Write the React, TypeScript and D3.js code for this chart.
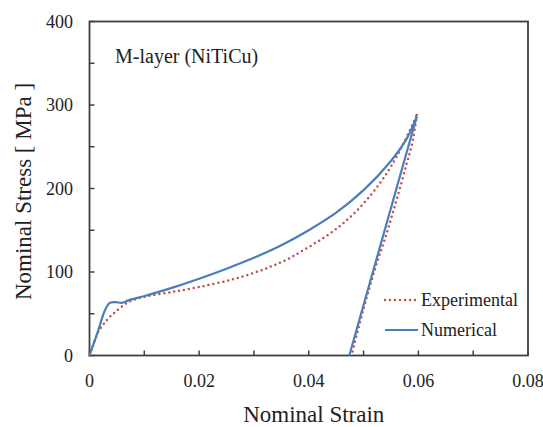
import React from "react";
import * as d3 from "d3";

const numLoadStrain = [0, 0.0016, 0.0028, 0.0037, 0.0047, 0.0059, 0.0071, 0.0099, 0.015, 0.02, 0.025, 0.03, 0.035, 0.04, 0.045, 0.05, 0.055, 0.0579, 0.0597];
const numLoadStress = [0, 30, 54, 63, 64, 63, 66, 71, 81, 92, 104, 117, 132, 150, 171, 198, 233, 260, 286];
const numUnloadStrain = [0.0597, 0.0474];
const numUnloadStress = [286, 0];

const expLoadStrain = [0, 0.0008, 0.0016, 0.0031, 0.0047, 0.0071, 0.0099, 0.015, 0.02, 0.026, 0.03, 0.0329, 0.0357, 0.039, 0.0451, 0.05, 0.0542, 0.0573, 0.0597];
const expLoadStress = [0, 15, 28, 42, 52, 64, 70, 76, 82, 91, 99, 106, 114, 126, 152, 182, 218, 254, 288];
const expUnloadStrain = [0.0597, 0.059, 0.0578, 0.056, 0.0542, 0.0522, 0.05, 0.0478];
const expUnloadStress = [288, 258, 228, 186, 146, 106, 56, 0];

const xTicks = [0, 0.01, 0.02, 0.03, 0.04, 0.05, 0.06, 0.07, 0.08];
const xLabels = [0, 0.02, 0.04, 0.06, 0.08];
const yTicks = [0, 50, 100, 150, 200, 250, 300, 350, 400];
const yLabels = [0, 100, 200, 300, 400];

const W = 543, H = 427;
const L = 89.5, R = 528, T = 21.5, B = 355.5;
const BLUE = "#4a7ebb";
const RED = "#c0504d";
const AXIS = "#404040";
const FF = "Liberation Serif";

function zip(xs: number[], ys: number[]): [number, number][] {
  return xs.map((x, i) => [x, ys[i]]);
}

function T_(props: any) {
  const { children, ...rest } = props;
  return (
    <text fontFamily={FF} style={{ fontFamily: `"${FF}"` }} fill="#222" {...rest}>
      {children}
    </text>
  );
}

export default function App() {
  const x = d3.scaleLinear().domain([0, 0.08]).range([L, R]);
  const y = d3.scaleLinear().domain([0, 400]).range([B, T]);
  const smooth = d3.line<[number, number]>().x(d => x(d[0])).y(d => y(d[1])).curve(d3.curveCatmullRom.alpha(0.5));
  const straight = d3.line<[number, number]>().x(d => x(d[0])).y(d => y(d[1]));

  return (
    <svg width={W} height={H} style={{ position: "absolute", left: 0, top: 0, background: "#fff" }}>
      <rect x={L} y={T} width={R - L} height={B - T} fill="none" stroke={AXIS} strokeWidth={1.8} />
      {xTicks.map(t => (
        <line key={"xt" + t} x1={x(t)} x2={x(t)} y1={B} y2={B - 5} stroke={AXIS} strokeWidth={1.5} />
      ))}
      {yTicks.map(t => (
        <line key={"yt" + t} x1={L} x2={L + 5} y1={y(t)} y2={y(t)} stroke={AXIS} strokeWidth={1.5} />
      ))}
      {xLabels.map(t => (
        <T_ key={"xl" + t} x={x(t)} y={387} fontSize={18} textAnchor="middle">
          {t === 0 ? "0" : t.toFixed(2)}
        </T_>
      ))}
      {yLabels.map(t => (
        <T_ key={"yl" + t} x={73} y={y(t) + 6} fontSize={18} textAnchor="end">
          {String(t)}
        </T_>
      ))}
      <T_ x={(L + R) / 2 + 5} y={422} fontSize={23} textAnchor="middle">Nominal Strain</T_>
      <T_ transform={`translate(31,${(T + B) / 2 + 3}) rotate(-90)`} fontSize={23} textAnchor="middle">
        Nominal Stress [ MPa ]
      </T_>
      <T_ x={115} y={63} fontSize={20}>M-layer (NiTiCu)</T_>
      <path d={smooth(zip(expLoadStrain, expLoadStress)) || ""} fill="none" stroke={RED} strokeWidth={2.5} strokeDasharray="0 5" strokeLinecap="round" />
      <path d={smooth(zip(expUnloadStrain, expUnloadStress)) || ""} fill="none" stroke={RED} strokeWidth={2.5} strokeDasharray="0 5" strokeLinecap="round" />
      <path d={smooth(zip(numLoadStrain, numLoadStress)) || ""} fill="none" stroke={BLUE} strokeWidth={2.2} />
      <path d={straight(zip(numUnloadStrain, numUnloadStress)) || ""} fill="none" stroke={BLUE} strokeWidth={2.2} />
      <line x1={385} x2={418} y1={300} y2={300} stroke={RED} strokeWidth={2.5} strokeDasharray="0 5" strokeLinecap="round" />
      <T_ x={421} y={306} fontSize={18}>Experimental</T_>
      <line x1={385} x2={418} y1={330} y2={330} stroke={BLUE} strokeWidth={2.2} />
      <T_ x={421} y={336} fontSize={18}>Numerical</T_>
    </svg>
  );
}
